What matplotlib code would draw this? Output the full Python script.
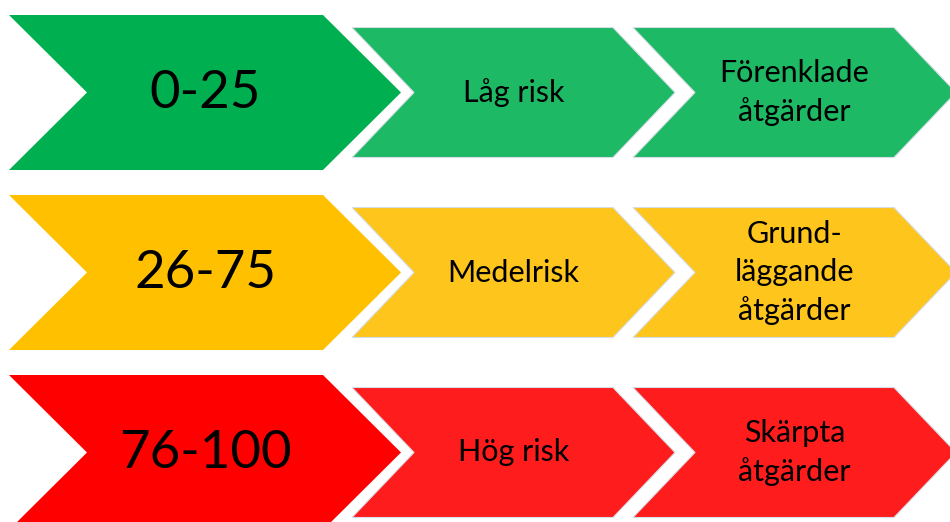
import matplotlib
matplotlib.use("Agg")
import matplotlib.pyplot as plt
from matplotlib.patches import Polygon

plt.rcParams['font.family'] = ['Lato', 'DejaVu Sans']

# ---- data ----
score_ranges = ["0-25", "26-75", "76-100"]
risk_levels = ["Låg risk", "Medelrisk", "Hög risk"]
measures = ["Förenklade\nåtgärder", "Grund-\nläggande\nåtgärder", "Skärpta\nåtgärder"]
main_colors = ["#00B050", "#FFC000", "#FF0000"]
step_colors = ["#1EB964", "#FEC51D", "#FE1C1C"]

W, H = 950, 522
fig = plt.figure(figsize=(W / 100, H / 100), dpi=100)
ax = fig.add_axes([0, 0, 1, 1])
ax.set_xlim(0, W)
ax.set_ylim(H, 0)
ax.axis("off")


def chevron(x0, x1, yc, half, depth):
    # x0: left of top edge, x1: right of top edge
    return [(x0, yc - half), (x1, yc - half), (x1 + depth, yc),
            (x1, yc + half), (x0, yc + half), (x0 + depth, yc)]


row_gap = 180
for i, (rng, risk, meas) in enumerate(zip(score_ranges, risk_levels, measures)):
    yc = 92.5 + i * row_gap
    # big chevron
    big = chevron(9, 323, yc, 77.5, 78)
    ax.add_patch(Polygon(big, closed=True, facecolor=main_colors[i], edgecolor="none"))
    ax.text((9 + 402) / 2, yc + 1, rng, ha="center", va="center", fontsize=38, color="black")
    # step chevrons
    for j, (x0, txt) in enumerate([(352, risk), (633, meas)]):
        pts = chevron(x0, x0 + 261, yc, 65, 62)
        ax.add_patch(Polygon(pts, closed=True, facecolor=step_colors[i],
                             edgecolor="#d6dde6", linewidth=0.8))
        ax.text(x0 + (261 + 62) / 2, yc, txt, ha="center", va="center",
                fontsize=22, color="black", linespacing=1.42)

fig.savefig("out.png", dpi=100)
